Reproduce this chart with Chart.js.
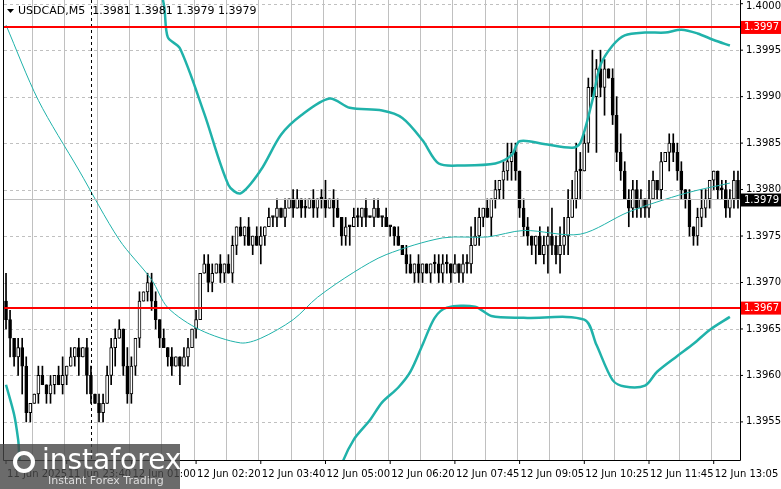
<!DOCTYPE html>
<html><head><meta charset="utf-8">
<script src="https://cdn.jsdelivr.net/npm/chart.js@4.4.1/dist/chart.umd.min.js"></script>
<style>html,body{margin:0;padding:0;background:#fff}#w{width:781px;height:489px}</style>
</head><body><div id="w"><canvas id="c"></canvas></div>
<script>
const closes=[1.3966,1.3964,1.3962,1.3963,1.3961,1.3956,1.3957,
1.3958,1.3960,1.3959,1.3958,1.3959,1.3960,1.3959,1.3960,
1.3961,1.3962,1.3963,1.3962,1.3963,1.3960,1.3958,1.3957,1.3956,1.3957,1.3960,1.3963,
1.3964,1.3965,1.3961,1.3958,1.3961,1.3964,1.3968,1.3969,1.3970,1.3968,1.3966,1.3964,1.3963,
1.3962,1.3961,1.3962,1.3961,1.3962,1.3963,1.3965,1.3966,1.3971,1.3972,1.3970,
1.3971,1.3972,1.3971,1.3972,1.3971,1.3974,1.3976,1.3975,1.3976,1.3974,1.3975,1.3974,
1.3975,1.3976,1.3977,1.3977,1.3978,1.3977,1.3978,1.3979,1.3978,1.3979,1.3978,1.3978,1.3979,
1.3978,1.3979,1.3979,1.3978,1.3979,1.3978,1.3977,1.3975,1.3976,1.3976,
1.3977,1.3977,1.3978,1.3977,1.3977,1.3978,1.3977,1.3977,1.3976,1.3976,1.3975,1.3974,1.3973,
1.3972,1.3971,1.3972,1.3971,1.3972,1.3971,1.3972,1.3972,1.3971,1.3972,1.3972,
1.3971,1.3972,1.3971,1.3972,1.3972,1.3974,1.3975,1.3977,1.3978,1.3977,1.3979,1.3980,
1.3981,1.3982,1.3983,1.3984,1.3982,1.3978,1.3976,
1.3975,1.3974,1.3975,1.3973,1.3974,1.3975,1.3974,1.3973,1.3974,1.3975,
1.3977,1.3979,1.3982,1.3982,1.3985,1.3991,1.3990,1.3993,1.3991,1.3993,1.3992,1.3988,1.3984,
1.3982,1.3979,1.3978,1.3980,1.3978,1.3979,1.3978,1.3979,1.3981,1.3980,1.3983,1.3984,1.3985,
1.3984,1.3982,1.3980,1.3979,1.3976,1.3975,1.3977,1.3978,1.3979,1.3981,1.3982,1.3980,
1.3980,1.3978,1.3979,1.3981,1.3979];
const firstOpen=1.3968;
const upWick  ="3101110011010120101011011111102101011101010011010111010110101011010101011010101201101011010110100101101000111101011221010101211011001113122323211412101221111102101011110101210001";
const downWick="1212311010111011012021011012011111011110110201010011011011010102101101010110111102011201110101011001011101111110111101102112121111120131121201301061301110211111011021111111111";
const upper={0:1.4010,35:1.4006,39:1.4000,40:1.39964,43:1.39952,49:1.39882,55:1.39805,58:1.39796,63:1.39821,68:1.39859,73:1.39880,80:1.39898,85:1.39888,93:1.39885,98:1.39877,103:1.39853,107:1.39828,113:1.39826,121:1.39828,125:1.39837,127:1.39852,133:1.39849,140:1.39845,142:1.39850,145:1.39896,147:1.39934,150:1.39955,153:1.39966,158:1.39969,163:1.39969,167:1.39972,171:1.39968,175:1.39961,179:1.39955};
const lower={0:1.39590,2:1.39558,3:1.39531,4:1.39493,15:1.3940,75:1.3940,83:1.39504,86:1.39531,90:1.39552,93:1.39571,97:1.39587,100:1.39604,103:1.39633,106:1.39662,109:1.39673,116:1.39674,120:1.39664,128:1.39662,143:1.39660,146:1.39633,150:1.39595,153:1.39588,158:1.39589,161:1.39604,166:1.39621,170:1.39634,174:1.39649,179:1.39663};
const ma={0:1.39977,8:1.39896,18:1.39821,28:1.39746,36:1.39703,40:1.39673,48:1.39649,58:1.39635,63:1.39640,71:1.39660,77:1.39684,86:1.39711,94:1.39730,108:1.39748,119:1.39749,128:1.39756,142:1.39752,154:1.39776,168:1.39796,179:1.39807};
const xTickLabels={0:"11 Jun 2025",15:"11 Jun 23:40",31:"12 Jun 01:00",47:"12 Jun 02:20",63:"12 Jun 03:40",79:"12 Jun 05:00",95:"12 Jun 06:20",111:"12 Jun 07:45",127:"12 Jun 09:05",143:"12 Jun 10:25",159:"12 Jun 11:45",175:"12 Jun 13:05"};
const yTicks=[1.4000,1.3995,1.3990,1.3985,1.3980,1.3975,1.3970,1.3965,1.3960,1.3955];
const levels=[1.39975,1.39673];
const levelLabels=["1.3997","1.3967"];
const current=1.3979;
const titleText="USDCAD,M5  1.3981 1.3981 1.3979 1.3979";

const labels=closes.map((_,i)=>i);
const opens=closes.map((c,i)=>i===0?firstOpen:closes[i-1]);
const P=0.0001;
const wick=closes.map((c,i)=>{const o=opens[i];const u=+(upWick[i]||1),d=+(downWick[i]||1);return [Math.min(o,c)-d*P,Math.max(o,c)+u*P];});
const body=closes.map((c,i)=>{let o=opens[i];if(o===c)o=c+0.00002;return [o,c];});
const bodyBg=closes.map((c,i)=>c>opens[i]?'#fff':'#000');
const sparse=o=>labels.map(i=>o[i]!==undefined?o[i]:null);

const overlay={id:'ov',
 beforeDatasetsDraw(ch){
  const {ctx,chartArea:a,scales:{y}}=ch;
  ctx.save();ctx.strokeStyle='#c0c0c0';ctx.setLineDash([3,3]);ctx.lineWidth=1;
  yTicks.forEach(t=>{const py=Math.round(y.getPixelForValue(t))+0.5;ctx.beginPath();ctx.moveTo(a.left,py);ctx.lineTo(a.right,py);ctx.stroke();});
  ctx.restore();
 },
 afterDatasetsDraw(ch){
 const {ctx,chartArea:a,scales:{y,x}}=ch;
 ctx.save();
 ctx.strokeStyle='#000';ctx.setLineDash([3,3]);ctx.lineWidth=1;
 const vx=Math.round(x.getPixelForValue(21))+0.5;ctx.beginPath();ctx.moveTo(vx,a.top);ctx.lineTo(vx,a.bottom);ctx.stroke();
 ctx.setLineDash([]);
 let cy=Math.round(y.getPixelForValue(current))+0.5;
 ctx.strokeStyle='#c0c0c0';ctx.beginPath();ctx.moveTo(a.left,cy);ctx.lineTo(a.right,cy);ctx.stroke();
 ctx.strokeStyle='#ff0000';ctx.lineWidth=2;
 levels.forEach(l=>{const py=Math.round(y.getPixelForValue(l));ctx.beginPath();ctx.moveTo(a.left,py);ctx.lineTo(781,py);ctx.stroke();});
 ctx.strokeStyle='#000';ctx.lineWidth=1;
 ctx.beginPath();ctx.moveTo(a.left-0.5,a.top);ctx.lineTo(a.left-0.5,a.bottom+0.5);ctx.lineTo(a.right+0.5,a.bottom+0.5);ctx.lineTo(a.right+0.5,a.top);ctx.stroke();
 ctx.font='10px "DejaVu Sans"';ctx.textBaseline='middle';ctx.fillStyle='#000';
 yTicks.forEach(t=>{const py=y.getPixelForValue(t);ctx.beginPath();ctx.moveTo(a.right,py);ctx.lineTo(a.right+3,py);ctx.stroke();ctx.fillText(t.toFixed(4),a.right+6,Math.max(py,6));});
 levels.forEach((l,k)=>{const py=y.getPixelForValue(l);ctx.fillStyle='#ff0000';ctx.fillRect(a.right+1,py-6,40,13);ctx.fillStyle='#fff';ctx.fillText(levelLabels[k],a.right+4,py+0.5);});
 ctx.fillStyle='#000';ctx.fillRect(a.right+1,cy-6,40,13);ctx.fillStyle='#fff';ctx.fillText(current.toFixed(4),a.right+4,cy+0.5);
 ctx.fillStyle='#000';ctx.textBaseline='top';
 Object.keys(xTickLabels).forEach(k=>{const px=x.getPixelForValue(+k);ctx.beginPath();ctx.moveTo(px,a.bottom);ctx.lineTo(px,a.bottom+4);ctx.stroke();ctx.fillText(xTickLabels[k],px+1,a.bottom+9);});
 ctx.textBaseline='middle';
 ctx.font='11px "DejaVu Sans"';ctx.fillText(titleText,18,11);
 ctx.beginPath();ctx.moveTo(7,9);ctx.lineTo(14,9);ctx.lineTo(10.5,13);ctx.closePath();ctx.fill();
 ctx.fillStyle='rgba(70,70,70,0.8)';ctx.fillRect(0,444,180,45);
 ctx.fillStyle='#fff';ctx.font='28px "DejaVu Sans"';ctx.fillText('instaforex',42,462);
 ctx.font='11px "DejaVu Sans"';ctx.fillStyle='#ddd';ctx.fillText('Instant Forex Trading',48,481);
 ctx.strokeStyle='#fff';ctx.lineWidth=4;ctx.beginPath();ctx.arc(24,462,9,0,Math.PI*2);ctx.stroke();
 ctx.restore();
}};

new Chart(document.getElementById('c'),{
 type:'bar',
 data:{labels,datasets:[
  {type:'line',data:sparse(upper),borderColor:'#20b2aa',borderWidth:2.5,pointRadius:0,spanGaps:true,tension:0.3,order:0},
  {type:'line',data:sparse(lower),borderColor:'#20b2aa',borderWidth:2.5,pointRadius:0,spanGaps:true,tension:0.3,order:0},
  {type:'line',data:sparse(ma),borderColor:'#20b2aa',borderWidth:1,pointRadius:0,spanGaps:true,tension:0.3,order:0},
  {data:wick,backgroundColor:'#000',barThickness:1,grouped:false,order:2},
  {data:body,backgroundColor:bodyBg,borderColor:'#000',borderWidth:1,borderSkipped:false,barThickness:3,grouped:false,order:1}
 ]},
 options:{responsive:true,maintainAspectRatio:false,animation:false,
  layout:{padding:{left:4,top:0,bottom:0,right:0}},
  plugins:{legend:{display:false},tooltip:{enabled:false}},
  scales:{
   x:{offset:true,afterFit:s=>{s.height=29;},
      grid:{color:c=>(c.index%8===7)?'#c0c0c0':'rgba(0,0,0,0)',drawTicks:false},border:{display:false},
      ticks:{display:false,autoSkip:false}},
   y:{position:'right',min:1.39509,max:1.40004,afterFit:s=>{s.width=41;},
      grid:{display:false},border:{display:false},
      ticks:{display:false}}
  }},
 plugins:[overlay]
});
</script></body></html>
